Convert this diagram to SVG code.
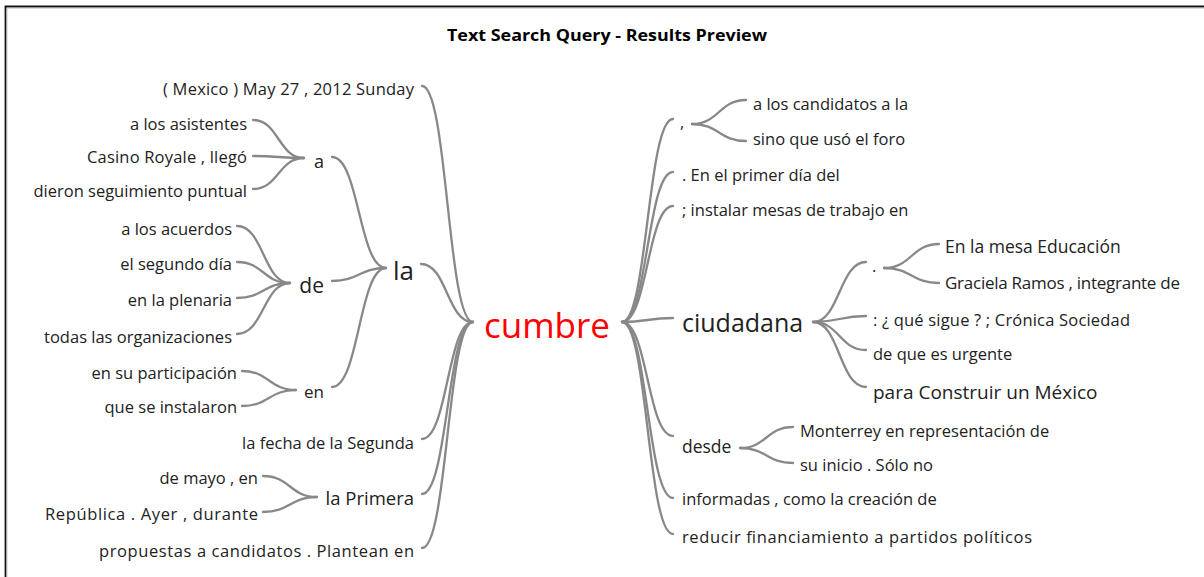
<svg xmlns="http://www.w3.org/2000/svg" width="1204" height="577" viewBox="0 0 1204 577">
<style>
text{font-family:"Open Sans","Noto Sans","DejaVu Sans",sans-serif;fill:#222}
.l{text-anchor:end}
.s{font-size:16.5px}
.title{font-weight:bold;font-size:16px;text-anchor:middle;fill:#000}
.c path{fill:none;stroke:#888;stroke-width:2.3;stroke-linecap:round}
</style>
<rect width="1204" height="577" fill="#fff"/>
<path d="M5.5,577 V6.5 H1204" fill="none" stroke="#111" stroke-width="1.8"/>
<path d="M7,577 V8.2 H1204" fill="none" stroke="#bbb" stroke-width="0.8"/>
<text class="title" x="607" y="41" textLength="320" lengthAdjust="spacingAndGlyphs">Text Search Query - Results Preview</text>
<g id="connectors" class="c">
<path d="M422,86 C447.5,86 447.5,322 473,322"/>
<path d="M421,264 C447,264 447,322 473,322"/>
<path d="M422,439 C447.5,439 447.5,322 473,322"/>
<path d="M422,494 C447.5,494 447.5,322 473,322"/>
<path d="M422,548 C447.5,548 447.5,322 473,322"/>
<path d="M332,157 C359,157 359,268 386,268"/>
<path d="M332,281 C359,281 359,268 386,268"/>
<path d="M332,387 C359,387 359,268 386,268"/>
<path d="M253,120 C278.5,120 278.5,158 304,158"/>
<path d="M253,156 C278.5,156 278.5,158 304,158"/>
<path d="M253,189 C278.5,189 278.5,158 304,158"/>
<path d="M237,226 C263.5,226 263.5,283 290,283"/>
<path d="M237,262 C263.5,262 263.5,283 290,283"/>
<path d="M237,298 C263.5,298 263.5,283 290,283"/>
<path d="M237,334 C263.5,334 263.5,283 290,283"/>
<path d="M242,371 C269,371 269,390 296,390"/>
<path d="M242,406 C269,406 269,390 296,390"/>
<path d="M263,476 C290,476 290,497 317,497"/>
<path d="M263,512 C290,512 290,497 317,497"/>
<path d="M622,322 C647.5,322 647.5,119 673,119"/>
<path d="M622,322 C647.5,322 647.5,172 673,172"/>
<path d="M622,322 C647.5,322 647.5,206 673,206"/>
<path d="M622,322 C647.5,322 647.5,318 673,318"/>
<path d="M622,322 C647.5,322 647.5,436 673,436"/>
<path d="M622,322 C647.5,322 647.5,498 673,498"/>
<path d="M622,322 C647.5,322 647.5,534 673,534"/>
<path d="M692,124 C719,124 719,100 746,100"/>
<path d="M692,124 C719,124 719,141 746,141"/>
<path d="M813,322 C839.5,322 839.5,262 866,262"/>
<path d="M813,322 C839.5,322 839.5,316 866,316"/>
<path d="M813,322 C839.5,322 839.5,350 866,350"/>
<path d="M813,322 C839.5,322 839.5,387 866,387"/>
<path d="M884,268 C911.5,268 911.5,244 939,244"/>
<path d="M884,268 C911.5,268 911.5,283 939,283"/>
<path d="M740,448 C766.5,448 766.5,427 793,427"/>
<path d="M740,448 C766.5,448 766.5,463 793,463"/>
</g>
<g id="n-cumbre"><text x="547" y="338" text-anchor="middle" style="font-size:35px;fill:#f00">cumbre</text></g>
<g id="n-mexico"><text class="l s" x="414" y="95" textLength="251">( Mexico ) May 27 , 2012 Sunday</text></g>
<g id="n-la"><text class="l" x="414" y="280" style="font-size:26px">la</text></g>
<g id="n-a"><text class="l" x="324" y="168" style="font-size:18px">a</text></g>
<g id="n-asistentes"><text class="l s" x="247" y="130">a los asistentes</text></g>
<g id="n-casino"><text class="l s" x="247" y="163" textLength="160">Casino Royale , llegó</text></g>
<g id="n-dieron"><text class="l s" x="247" y="197">dieron seguimiento puntual</text></g>
<g id="n-de"><text class="l" x="324" y="293" style="font-size:21px">de</text></g>
<g id="n-acuerdos"><text class="l s" x="232" y="235">a los acuerdos</text></g>
<g id="n-segundo"><text class="l s" x="232" y="270">el segundo día</text></g>
<g id="n-plenaria"><text class="l s" x="232" y="306">en la plenaria</text></g>
<g id="n-todas"><text class="l s" x="232" y="343">todas las organizaciones</text></g>
<g id="n-en"><text class="l" x="324" y="398" style="font-size:17px">en</text></g>
<g id="n-participacion"><text class="l s" x="237" y="379">en su participación</text></g>
<g id="n-instalaron"><text class="l s" x="237" y="413">que se instalaron</text></g>
<g id="n-fecha"><text class="l s" x="414" y="449">la fecha de la Segunda</text></g>
<g id="n-primera"><text class="l" x="414" y="505" style="font-size:18.5px">la Primera</text></g>
<g id="n-mayo"><text class="l s" x="258" y="484">de mayo , en</text></g>
<g id="n-republica"><text class="l s" x="258" y="520" textLength="213">República . Ayer , durante</text></g>
<g id="n-propuestas"><text class="l s" x="414" y="557" textLength="315">propuestas a candidatos . Plantean en</text></g>
<g id="n-comma"><text class="s" x="680" y="128">,</text></g>
<g id="n-candidatos"><text class="s" x="753" y="110">a los candidatos a la</text></g>
<g id="n-sino"><text class="s" x="753" y="145">sino que usó el foro</text></g>
<g id="n-primer"><text class="s" x="682" y="181">. En el primer día del</text></g>
<g id="n-mesas"><text class="s" x="682" y="216">; instalar mesas de trabajo en</text></g>
<g id="n-ciudadana"><text x="682" y="332" style="font-size:25px">ciudadana</text></g>
<g id="n-dot"><text class="s" x="872" y="272">.</text></g>
<g id="n-educacion"><text x="945" y="253" style="font-size:17.5px">En la mesa Educación</text></g>
<g id="n-graciela"><text x="945" y="289" style="font-size:17px" textLength="235">Graciela Ramos , integrante de</text></g>
<g id="n-sigue"><text class="s" x="873" y="326" textLength="257">: ¿ qué sigue ? ; Crónica Sociedad</text></g>
<g id="n-urgente"><text class="s" x="873" y="360">de que es urgente</text></g>
<g id="n-construir"><text x="873" y="399" style="font-size:19px">para Construir un México</text></g>
<g id="n-desde"><text x="682" y="453" style="font-size:17.5px">desde</text></g>
<g id="n-monterrey"><text class="s" x="800" y="437">Monterrey en representación de</text></g>
<g id="n-inicio"><text class="s" x="800" y="471">su inicio . Sólo no</text></g>
<g id="n-informadas"><text class="s" x="682" y="505">informadas , como la creación de</text></g>
<g id="n-reducir"><text class="s" x="682" y="543" textLength="350">reducir financiamiento a partidos políticos</text></g>
</svg>
